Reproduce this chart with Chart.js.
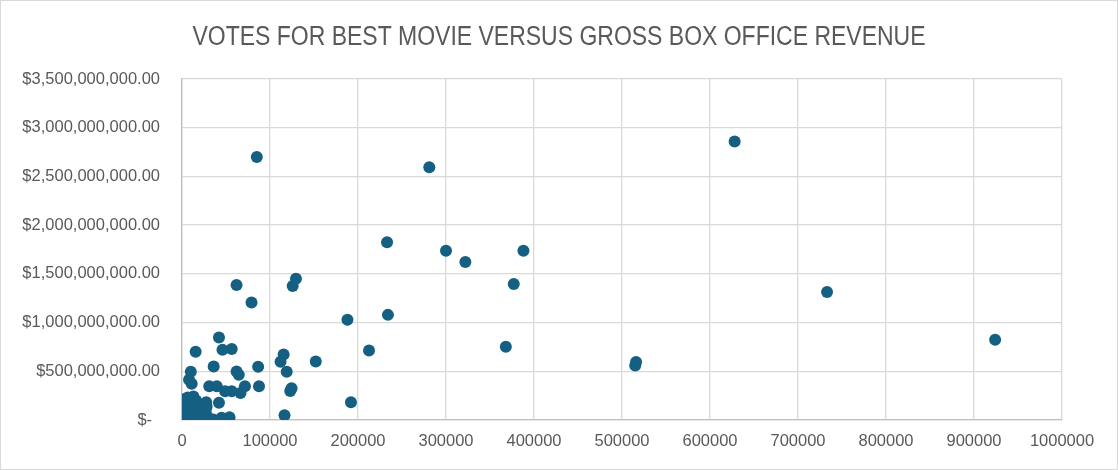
<!DOCTYPE html>
<html>
<head>
<meta charset="utf-8">
<script src="https://cdn.jsdelivr.net/npm/chart.js@4.4.1/dist/chart.umd.min.js"></script>
<style>
  html, body { margin: 0; padding: 0; background: #ffffff; }
  #frame {
    width: 1118px; height: 470px; box-sizing: border-box;
    border: 1px solid #d9d9d9; background: #ffffff;
  }
  #frame canvas { display: block; }
</style>
</head>
<body>
<div id="frame"><canvas id="votesChart" width="1116" height="468"></canvas></div>
<script>
// votes for best movie (x) and gross box office revenue in dollars (y)
const votes = [
  85000, 281000, 628000, 233000, 300000, 322000, 388000, 377000, 733000,
  129500, 125800, 79000, 62000, 188000, 234000, 212500, 368000, 924000,
  516000, 515000, 115500, 112000, 152000, 86500, 119000, 87500, 124500,
  123000, 192000, 116500, 42000, 15500, 46000, 56500, 36000, 10000,
  62000, 64500, 8000, 11000, 31000, 39500, 49000, 56500, 71500,
  66500, 42000, 27500, 24000, 28000, 35500, 45000, 54000,
  500, 1000, 1500, 2000, 2500, 3000, 3500, 4000, 4500, 5000,
  5500, 6000, 6500, 7000, 7500, 8000, 9000, 9500, 10000, 11000,
  12000, 13000, 14000, 15000, 16000, 17000, 18000, 19000, 21000, 23000,
  25000, 27000, 30000, 1200, 2200, 3200
];
const gross = [
  2700e6, 2595e6, 2858e6, 1825e6, 1736e6, 1621e6, 1736e6, 1396e6, 1314e6,
  1450e6, 1375e6, 1205e6, 1385e6, 1028e6, 1079e6, 714e6, 752e6, 823e6,
  595e6, 560e6, 673e6, 598e6, 601e6, 547e6, 496e6, 346e6, 325e6,
  298e6, 182e6, 49e6, 847e6, 700e6, 721e6, 728e6, 550e6, 496e6,
  499e6, 465e6, 414e6, 373e6, 346e6, 346e6, 294e6, 294e6, 346e6,
  278e6, 176e6, 182e6, 108e6, 135e6, 5e6, 22e6, 29e6,
  5e6, 30e6, 80e6, 130e6, 170e6, 15e6, 60e6, 110e6, 200e6, 150e6,
  40e6, 90e6, 230e6, 10e6, 175e6, 60e6, 120e6, 220e6, 20e6, 80e6,
  160e6, 240e6, 50e6, 110e6, 200e6, 30e6, 140e6, 90e6, 60e6, 130e6,
  40e6, 80e6, 20e6, 100e6, 210e6, 120e6
];
const xTicks = [0, 100000, 200000, 300000, 400000, 500000, 600000, 700000, 800000, 900000, 1000000];
const yTicks = [0, 500e6, 1000e6, 1500e6, 2000e6, 2500e6, 3000e6, 3500e6];
const chartTitle = "VOTES FOR BEST MOVIE VERSUS GROSS BOX OFFICE REVENUE";

const points = votes.map((v, i) => ({ x: v, y: gross[i] }));

// accounting style labels like Excel
const money = (value) => {
  if (value === 0) return "$- \u2009";
  return "$" + value.toLocaleString("en-US", { minimumFractionDigits: 2, maximumFractionDigits: 2 });
};

const tickFont = { family: "'Liberation Sans', Arial, sans-serif", size: 16.5 };

// narrow title centred on the whole canvas (no narrow font installed, so squeeze it)
const narrowTitle = {
  id: "narrowTitle",
  afterDraw(chart) {
    const ctx = chart.ctx;
    ctx.save();
    ctx.font = "27px 'Liberation Sans', Arial, sans-serif";
    ctx.fillStyle = "#595959";
    ctx.textAlign = "center";
    ctx.textBaseline = "alphabetic";
    const w = ctx.measureText(chartTitle).width;
    ctx.translate(chart.width / 2, 43.5);
    ctx.scale(733 / w, 1);
    ctx.fillText(chartTitle, 0, 0);
    ctx.restore();
  },
};

new Chart(document.getElementById("votesChart"), {
  type: "scatter",
  data: {
    datasets: [
      {
        label: "Gross",
        data: points,
        pointRadius: 6,
        pointHoverRadius: 6,
        pointBackgroundColor: "#156082",
        pointBorderWidth: 0,
      },
    ],
  },
  plugins: [narrowTitle],
  options: {
    responsive: false,
    animation: false,
    devicePixelRatio: 1,
    layout: { padding: { left: 0, right: 55, top: 78, bottom: 0 } },
    plugins: {
      legend: { display: false },
      tooltip: { enabled: false },
      title: { display: false },
    },
    scales: {
      x: {
        type: "linear",
        min: xTicks[0],
        max: xTicks[xTicks.length - 1],
        afterBuildTicks: (scale) => { scale.ticks = xTicks.map((v) => ({ value: v })); },
        afterFit: (scale) => { scale.height = 49; },
        grid: { color: "#d9d9d9", lineWidth: 1.3, drawTicks: false },
        border: { color: "#bfbfbf", width: 1.3 },
        ticks: {
          color: "#595959",
          font: tickFont,
          padding: 12,
          maxRotation: 0,
          callback: (value) => String(value),
        },
      },
      y: {
        type: "linear",
        min: yTicks[0],
        max: yTicks[yTicks.length - 1],
        afterBuildTicks: (scale) => { scale.ticks = yTicks.map((v) => ({ value: v })); },
        afterFit: (scale) => { scale.width = 181; },
        grid: { color: "#d9d9d9", lineWidth: 1.3, drawTicks: false },
        border: { color: "#bfbfbf", width: 1.3 },
        ticks: {
          color: "#595959",
          font: tickFont,
          padding: 22,
          callback: (value) => money(value),
        },
      },
    },
  },
});
</script>
</body>
</html>
